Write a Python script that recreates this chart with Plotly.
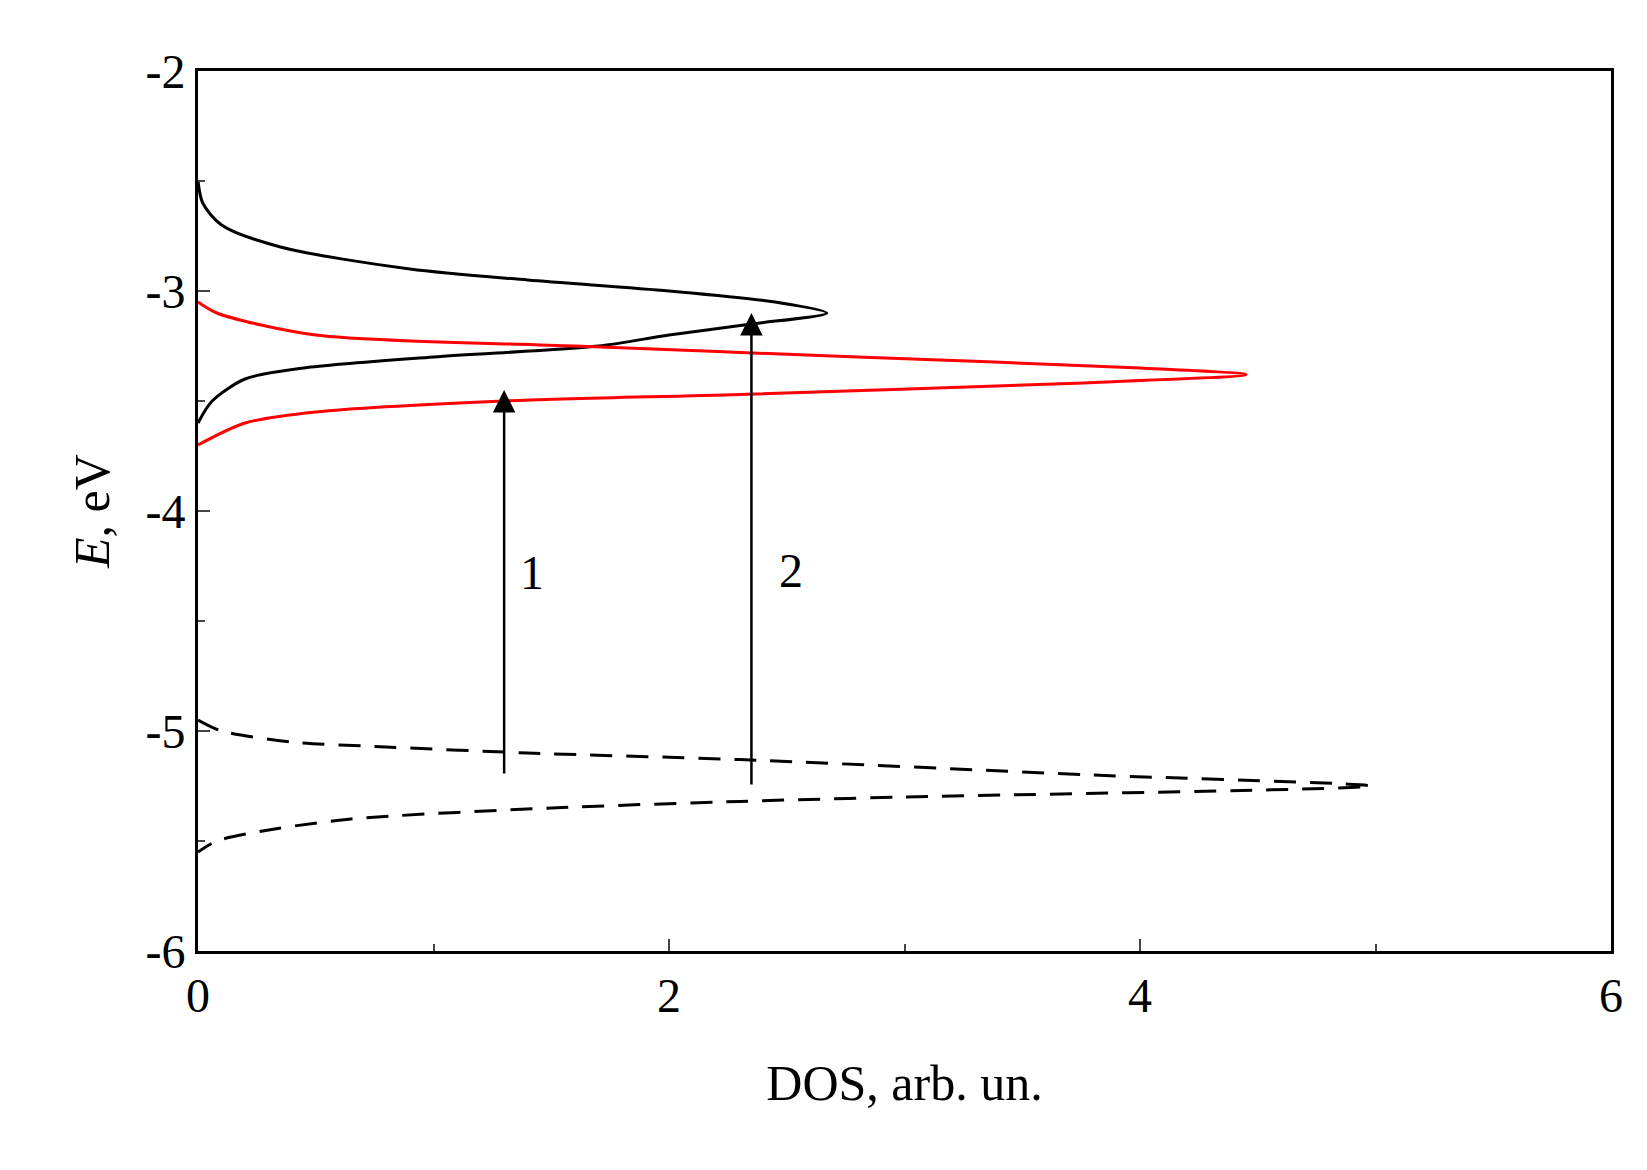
import plotly.graph_objects as go

# Black solid curve (DOS, E)
black_E = [-2.5, -2.6, -2.7, -2.8, -2.9, -2.95, -3.0, -3.05, -3.1, -3.15, -3.2, -3.25, -3.3, -3.35, -3.4, -3.5, -3.6]
black_x = [0.0, 0.02, 0.1, 0.35, 0.9, 1.4, 2.0, 2.45, 2.67, 2.35, 2.0, 1.7, 1.0, 0.45, 0.2, 0.06, 0.0]
# Red curve
red_E = [-3.05, -3.1, -3.2, -3.25, -3.3, -3.35, -3.38, -3.42, -3.47, -3.5, -3.55, -3.6, -3.7]
red_x = [0.0, 0.08, 0.5, 1.6, 2.8, 4.0, 4.45, 3.7, 2.3, 1.3, 0.5, 0.2, 0.0]
# Dashed curve
dash_E = [-4.95, -5.0, -5.05, -5.07, -5.1, -5.13, -5.2, -5.25, -5.3, -5.32, -5.35, -5.4, -5.45, -5.5, -5.55]
dash_x = [0.0, 0.1, 0.4, 0.75, 1.4, 2.3, 3.8, 4.98, 3.0, 2.3, 1.5, 0.65, 0.3, 0.08, 0.0]

# Arrows: x, start E, end E, label, label x, label E
arrow_x = [1.3, 2.35]
arrow_E0 = [-5.2, -5.25]
arrow_E1 = [-3.45, -3.1]
arrow_lbl = ["1", "2"]
lbl_x = [1.42, 2.52]
lbl_E = [-4.28, -4.27]

fig = go.Figure()
fig.add_trace(go.Scatter(x=black_x, y=black_E, mode="lines", line=dict(color="black", width=3, shape="spline", smoothing=0.8)))
fig.add_trace(go.Scatter(x=red_x, y=red_E, mode="lines", line=dict(color="red", width=3, shape="spline", smoothing=0.8)))
fig.add_trace(go.Scatter(x=dash_x, y=dash_E, mode="lines", line=dict(color="black", width=3, dash="22px,14px", shape="spline", smoothing=0.8)))

for ax_, e0, e1, t, lx, le in zip(arrow_x, arrow_E0, arrow_E1, arrow_lbl, lbl_x, lbl_E):
    fig.add_annotation(x=ax_, y=e1, ax=ax_, ay=e0, xref="x", yref="y", axref="x", ayref="y",
                       showarrow=True, arrowhead=2, arrowsize=1.8, arrowwidth=2.5, arrowcolor="black", text="")
    fig.add_annotation(x=lx, y=le, text=t, showarrow=False,
                       font=dict(family="Liberation Serif", size=48, color="black"))

fig.update_xaxes(range=[0, 6], tickvals=[0, 2, 4, 6], ticks="inside", ticklen=12, tickwidth=2,
                 minor=dict(tickvals=[1, 3, 5], ticks="inside", ticklen=7, tickwidth=2),
                 showline=True, linecolor="black", linewidth=3, mirror=True, showgrid=False, zeroline=False,
                 title=dict(text="DOS, arb. un.", font=dict(size=50), standoff=45))
fig.update_yaxes(range=[-6, -2], tickvals=[-6, -5, -4, -3, -2], ticktext=["-6", "-5", "-4", "-3", "-2"],
                 ticks="inside", ticklen=12, tickwidth=2,
                 minor=dict(tickvals=[-5.5, -4.5, -3.5, -2.5], ticks="inside", ticklen=7, tickwidth=2),
                 showline=True, linecolor="black", linewidth=3, mirror=True, showgrid=False, zeroline=False,
                 title=dict(text="<i>E</i>, eV", font=dict(size=50), standoff=20))
fig.update_layout(width=1647, height=1170, showlegend=False, plot_bgcolor="white", paper_bgcolor="white",
                  font=dict(family="Liberation Serif", size=48, color="black"),
                  margin=dict(l=190, r=44, t=63, b=227))
fig.write_html("out.html")
